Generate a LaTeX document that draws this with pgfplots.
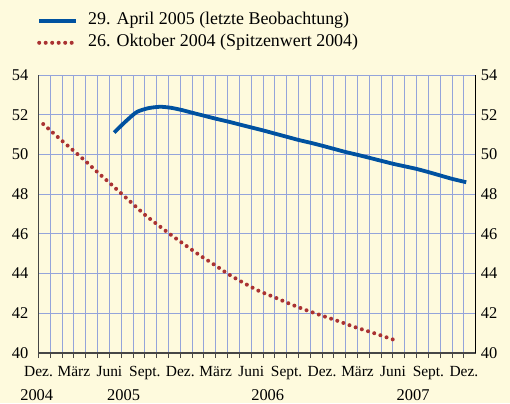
\documentclass[border=0pt]{standalone}
\usepackage{fontspec}
\setmainfont{Liberation Serif}
\usepackage{pgfplots}
\pgfplotsset{compat=1.18}
\usetikzlibrary{backgrounds,calc}
\definecolor{bgc}{RGB}{254,250,221}
\definecolor{gridc}{RGB}{148,164,218}
\definecolor{blueline}{RGB}{0,82,160}
\definecolor{reddot}{RGB}{170,50,50}
\definecolor{axc}{RGB}{70,70,70}

\pgfplotstableread{
m v
6.4 51.10
7.3 51.62
8.3 52.13
9.3 52.33
10.3 52.40
11.2 52.35
12.1 52.24
13.0 52.10
14.0 51.95
15.0 51.80
16.0 51.66
17.0 51.51
18.0 51.36
19.0 51.21
20.0 51.05
21.0 50.89
22.0 50.73
23.0 50.59
24.0 50.44
25.0 50.28
26.0 50.12
27.0 49.98
28.0 49.83
29.0 49.68
30.0 49.53
31.0 49.40
32.0 49.27
33.0 49.11
34.0 48.94
35.0 48.77
36.2 48.60
}\aprilfc

\pgfplotstableread{
m v
0.4 51.53
1.3 51.05
2.2 50.58
3.1 50.12
4.0 49.65
5.0 49.10
5.8 48.68
6.9 48.09
8.0 47.50
9.0 46.96
10.1 46.45
11.3 45.91
12.5 45.40
13.7 44.90
15.0 44.40
16.1 43.96
17.3 43.55
18.6 43.14
20.0 42.80
21.25 42.48
22.6 42.17
24.0 41.88
25.4 41.60
26.7 41.32
28.5 40.98
30.2 40.64
}\octfc

\begin{document}
\begin{tikzpicture}
\begin{axis}[
  name=ax1,
  scale only axis, width=437.2bp, height=278bp,
  xmin=0, xmax=37, ymin=40, ymax=54,
  clip=false,
  axis x line*=bottom, axis y line*=left,
  x axis line style={axc, line width=1.2bp, -},
  y axis line style={axc, line width=1.5bp, -},
  xtick={0,3,...,36},
  minor xtick={1,2,4,5,7,8,10,11,13,14,16,17,19,20,22,23,25,26,28,29,31,32,34,35},
  xticklabels={Dez.,März,Juni,Sept.,Dez.,März,Juni,Sept.,Dez.,März,Juni,Sept.,Dez.},
  xtick align=outside,
  major tick length=5bp, minor tick length=5bp,
  xtick style={axc, line width=1bp},
  minor tick style={axc, line width=1bp},
  xticklabel style={anchor=north, inner sep=0pt, yshift=-8bp, font=\fontsize{15.5}{16}\selectfont},
  ytick={40,42,...,54},
  ytick style={draw=none},
  yticklabel style={anchor=east, inner sep=0pt, xshift=-10bp, font=\fontsize{16.5}{18}\selectfont},
  /pgf/number format/assume math mode=true,
  grid=both,
  major grid style={gridc, line width=1bp},
  minor grid style={gridc, line width=1bp},
  legend style={at={(axis description cs:0,1)}, anchor=south west, xshift=-1.5bp, yshift=24bp,
    draw=none, fill=none, inner sep=0pt, row sep=6bp, column sep=10bp,
    nodes={inner sep=0pt, text height=12bp, text depth=4bp, font=\fontsize{18}{19}\selectfont}},
  legend cell align=left,
  legend image code/.code={\draw[#1] (0bp,0bp) -- (37bp,0bp);},
]
\addplot[blueline, line width=3.8bp, smooth, tension=0.4] table {\aprilfc};
\addlegendentry{29. April 2005 (letzte Beobachtung)}
\addplot[reddot, line width=4bp, line cap=round, dash pattern=on 0pt off 6.5bp, smooth, tension=0.4] table {\octfc};
\addlegendentry{26. Oktober 2004 (Spitzenwert 2004)}
\node[font=\fontsize{16.5}{18}\selectfont, anchor=center] at (axis cs:-0.15,40) [yshift=-42bp] {2004};
\node[font=\fontsize{16.5}{18}\selectfont, anchor=center] at (axis cs:7.2,40) [yshift=-42bp] {2005};
\node[font=\fontsize{16.5}{18}\selectfont, anchor=center] at (axis cs:19.4,40) [yshift=-42bp] {2006};
\node[font=\fontsize{16.5}{18}\selectfont, anchor=center] at (axis cs:31.7,40) [yshift=-42bp] {2007};
\end{axis}
\begin{axis}[
  at={(ax1.south west)}, anchor=south west,
  scale only axis, width=437.2bp, height=278bp,
  xmin=0, xmax=37, ymin=40, ymax=54,
  axis x line=none, axis y line*=right,
  y axis line style={black, line width=1.5bp, -},
  ytick={40,42,...,54},
  ytick style={draw=none},
  yticklabel style={anchor=west, inner sep=0pt, xshift=5bp, font=\fontsize{16.5}{18}\selectfont},
  /pgf/number format/assume math mode=true,
]
\end{axis}
\begin{scope}[on background layer]
\fill[bgc] ($(ax1.south west)+(-38.5bp,-50bp)$) rectangle ($(ax1.south west)+(471.5bp,353bp)$);
\end{scope}
\end{tikzpicture}
\end{document}
